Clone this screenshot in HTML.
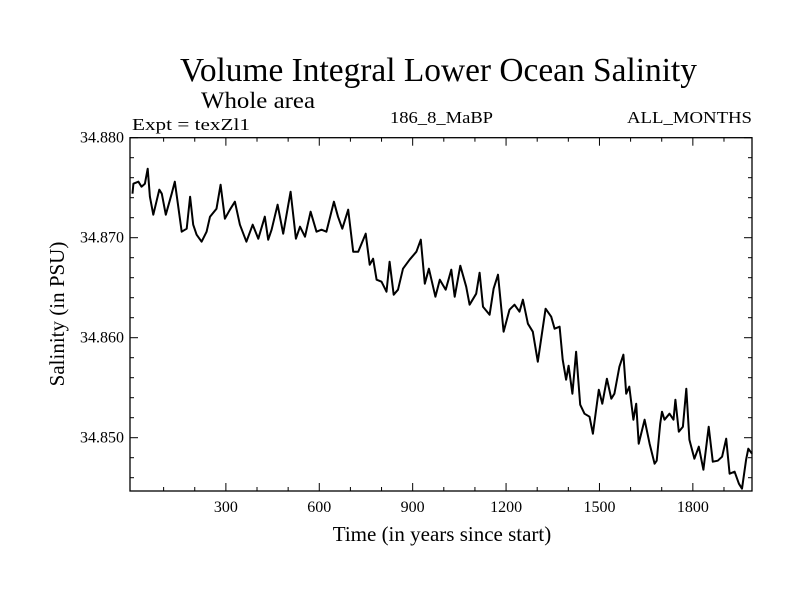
<!DOCTYPE html>
<html><head><meta charset="utf-8"><style>
body{margin:0;background:#fff;}
svg text{font-family:"Liberation Serif",serif;fill:#000;}
</style></head><body>
<svg id="chart" width="800" height="600" viewBox="0 0 800 600" xmlns="http://www.w3.org/2000/svg">
<rect width="800" height="600" fill="#fff"/>
<text x="180" y="81" font-size="34" textLength="517" lengthAdjust="spacingAndGlyphs">Volume Integral Lower Ocean Salinity</text>
<text x="201" y="108" font-size="23" textLength="114" lengthAdjust="spacingAndGlyphs">Whole area</text>
<text x="132" y="130" font-size="17" textLength="118" lengthAdjust="spacingAndGlyphs">Expt = texZl1</text>
<text x="390" y="123" font-size="17" textLength="103" lengthAdjust="spacingAndGlyphs">186_8_MaBP</text>
<text x="627" y="123" font-size="17" textLength="125" lengthAdjust="spacingAndGlyphs">ALL_MONTHS</text>
<text transform="translate(64,314) rotate(-90)" font-size="21" text-anchor="middle">Salinity (in PSU)</text>
<text x="442" y="541" font-size="21" text-anchor="middle">Time (in years since start)</text>
<g id="axes"></g>
<g id="plot"></g>
<rect x="130" y="137.7" width="622" height="353.3" fill="none" stroke="#000" stroke-width="1.3"/>
</svg>
<script>
const years=[0,3,19,29,40,49,56,67,86,94,107,126,136,144,158,174,185,195,206,222,238,249,270,283,297,313,329,345,366,386,404,425,436,447,466,484,508,525,538,554,572,591,607,623,647,660,674,693,709,725,749,762,773,784,800,816,826,839,853,869,890,912,926,939,952,973,987,1006,1024,1035,1053,1072,1083,1104,1115,1126,1147,1160,1174,1192,1211,1227,1243,1254,1270,1286,1302,1327,1345,1356,1372,1382,1393,1401,1413,1425,1438,1452,1468,1479,1498,1509,1524,1538,1548,1564,1577,1586,1596,1609,1618,1626,1645,1661,1677,1684,1695,1701,1709,1725,1738,1744,1755,1768,1779,1789,1805,1819,1834,1851,1864,1880,1894,1907,1918,1934,1948,1958,1971,1978,1990];
const salinity=[34.8744,34.8754,34.8756,34.8751,34.8754,34.8769,34.8741,34.8723,34.8748,34.8744,34.8723,34.8744,34.8756,34.8738,34.8706,34.8709,34.8741,34.8713,34.8703,34.8696,34.8706,34.8721,34.8729,34.8753,34.8719,34.8728,34.8736,34.8713,34.8696,34.8713,34.8699,34.8721,34.8698,34.8708,34.8733,34.8704,34.8746,34.8699,34.8711,34.8701,34.8726,34.8706,34.8708,34.8706,34.8736,34.8721,34.8709,34.8728,34.8686,34.8686,34.8704,34.8673,34.8679,34.8658,34.8656,34.8646,34.8676,34.8643,34.8648,34.8669,34.8678,34.8686,34.8698,34.8654,34.8669,34.8641,34.8658,34.8648,34.8668,34.8641,34.8672,34.8651,34.8633,34.8644,34.8665,34.8631,34.8623,34.8649,34.8663,34.8606,34.8628,34.8633,34.8626,34.8638,34.8614,34.8606,34.8576,34.8629,34.8621,34.8609,34.8611,34.8578,34.8558,34.8572,34.8544,34.8586,34.8533,34.8524,34.8521,34.8504,34.8548,34.8534,34.8559,34.8539,34.8544,34.8571,34.8583,34.8544,34.8551,34.8518,34.8534,34.8494,34.8518,34.8494,34.8474,34.8477,34.8514,34.8526,34.8518,34.8524,34.8518,34.8538,34.8506,34.8511,34.8549,34.8498,34.8479,34.8491,34.8468,34.8511,34.8476,34.8477,34.8481,34.8499,34.8464,34.8466,34.8454,34.8449,34.8478,34.8489,34.8484];
const xTickLabels=[300,600,900,1200,1500,1800];
const yTickLabels=["34.880","34.870","34.860","34.850"];
const yTickValues=[34.880,34.870,34.860,34.850];

const X0=130,X1=752,Y0=137.7,Y1=491;
const xMin=-8,xMax=1990,yMax=34.880,yMin=34.84467;
function sx(v){return X0+(v-xMin)/(xMax-xMin)*(X1-X0);}
function sy(v){return Y0+(yMax-v)/(yMax-yMin)*(Y1-Y0);}
const NS="http://www.w3.org/2000/svg";
const axes=document.getElementById('axes');
const plot=document.getElementById('plot');
function ln(x1,y1,x2,y2,name){
  const l=document.createElementNS(NS,'line');
  l.setAttribute('x1',x1);l.setAttribute('y1',y1);l.setAttribute('x2',x2);l.setAttribute('y2',y2);
  l.setAttribute('stroke','#000');l.setAttribute('stroke-width','1');
  
  
  axes.appendChild(l);
}
for(let v=100;v<xMax;v+=100){
  const x=sx(v),len=(v%300===0)?8:4;
  ln(x,Y1,x,Y1-len,'x-tick');
  ln(x,Y0,x,Y0+len,'x-tick-top');
}
for(let k=0;k<=17;k++){
  const v=34.880-k*0.002;
  if(v<yMin)break;
  const y=sy(v),len=(k%5===0)?8:4;
  ln(X0,y,X0+len,y,'y-tick');
  ln(X1,y,X1-len,y,'y-tick-right');
}
xTickLabels.forEach(v=>{
  const t=document.createElementNS(NS,'text');
  t.setAttribute('x',sx(v));t.setAttribute('y',512);t.setAttribute('font-size','16');t.setAttribute('text-anchor','middle');
  t.textContent=v;
  
  
  axes.appendChild(t);
});
yTickValues.forEach((v,i)=>{
  const t=document.createElementNS(NS,'text');
  t.setAttribute('x',124);t.setAttribute('y',sy(v)+5);t.setAttribute('font-size','16');t.setAttribute('text-anchor','end');
  t.textContent=yTickLabels[i];
  
  
  axes.appendChild(t);
});
const p=document.createElementNS(NS,'polyline');
p.setAttribute('points',years.map((y,i)=>sx(y).toFixed(1)+','+sy(salinity[i]).toFixed(1)).join(' '));
p.setAttribute('fill','none');p.setAttribute('stroke','#000');p.setAttribute('stroke-width','2');p.setAttribute('stroke-linejoin','round');


plot.appendChild(p);
</script>
</body></html>
